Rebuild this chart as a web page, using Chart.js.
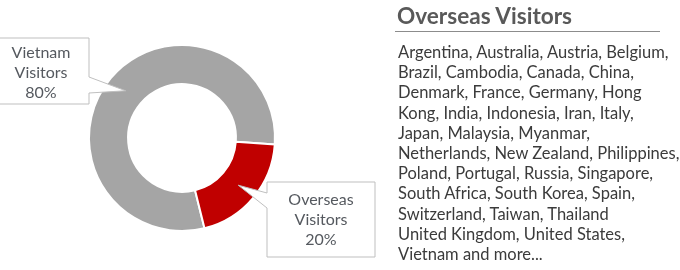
<!DOCTYPE html>
<html>
<head>
<meta charset="utf-8">
<script src="https://cdn.jsdelivr.net/npm/chart.js@4"></script>
<style>
  html, body { margin: 0; padding: 0; background: #fff; }
  #wrap { position: relative; width: 680px; height: 270px; overflow: hidden; }
  #donut { position: absolute; left: 0; top: 0; }
  #panel { position: absolute; left: 397px; top: 0; width: 283px; font-family: Lato, sans-serif; }
  #panel h2 { margin: 0; position: absolute; left: 0; top: 2px; font-size: 22.6px; font-weight: bold; color: #595959; white-space: nowrap; }
  #rule { position: absolute; left: -2px; top: 31px; width: 265px; height: 1px; background: #8c8c8c; }
  #list { position: absolute; left: 1px; top: 42px; font-size: 16.5px; line-height: 20.2px; color: #3b3b3b; white-space: nowrap; }
</style>
</head>
<body>
<div id="wrap">
  <canvas id="donut" width="680" height="270"></canvas>
  <div id="panel">
    <h2 id="title"></h2>
    <div id="rule"></div>
    <div id="list"></div>
  </div>
</div>
<script>
// chart data
const labels = ['Vietnam Visitors', 'Overseas Visitors'];
const shares = [80, 20];
const colors = ['#a5a5a5', '#c00000'];

// side panel text
const panelTitle = 'Overseas Visitors';
const countryLines = [
    'Argentina, Australia, Austria, Belgium,',
    'Brazil, Cambodia, Canada, China,',
    'Denmark, France, Germany, Hong',
    'Kong, India, Indonesia, Iran, Italy,',
    'Japan, Malaysia, Myanmar,',
    'Netherlands, New Zealand, Philippines,',
    'Poland, Portugal, Russia, Singapore,',
    'South Africa, South Korea, Spain,',
    'Switzerland, Taiwan, Thailand',
    'United Kingdom, United States,',
    'Vietnam and more...'
];

document.getElementById('title').textContent = panelTitle;
const list = document.getElementById('list');
countryLines.forEach(line => {
    const div = document.createElement('div');
    div.textContent = line;
    list.appendChild(div);
});

// callout boxes: x, y, w, h, which side the pointer leaves from, pointer base y range
const callouts = [
    { box: [-2, 38, 91, 66], side: 'right', base: [77, 93], text: [41, 58] },
    { box: [267, 182, 108, 75], side: 'left', base: [193, 208], text: [321, 205] }
];

const calloutPlugin = {
    id: 'callouts',
    afterDatasetsDraw(chart) {
        const ctx = chart.ctx;
        const meta = chart.getDatasetMeta(0);
        callouts.forEach((c, i) => {
            const tip = meta.data[i].getCenterPoint();
            const [x, y, w, h] = c.box;
            ctx.save();
            ctx.beginPath();
            if (c.side === 'right') {
                ctx.moveTo(x, y);
                ctx.lineTo(x + w, y);
                ctx.lineTo(x + w, c.base[0]);
                ctx.lineTo(tip.x, tip.y);
                ctx.lineTo(x + w, c.base[1]);
                ctx.lineTo(x + w, y + h);
                ctx.lineTo(x, y + h);
            } else {
                ctx.moveTo(x, y);
                ctx.lineTo(x + w, y);
                ctx.lineTo(x + w, y + h);
                ctx.lineTo(x, y + h);
                ctx.lineTo(x, c.base[1]);
                ctx.lineTo(tip.x, tip.y);
                ctx.lineTo(x, c.base[0]);
            }
            ctx.closePath();
            ctx.fillStyle = '#ffffff';
            ctx.fill();
            ctx.strokeStyle = '#bfbfbf';
            ctx.lineWidth = 1;
            ctx.translate(0.5, 0.5);
            ctx.stroke();
            ctx.restore();

            // label text: name split into two lines, then percent
            const words = labels[i].split(' ');
            const lines = [words[0], words[1], shares[i] + '%'];
            ctx.save();
            ctx.font = '16px Lato, sans-serif';
            ctx.fillStyle = '#55595f';
            ctx.textAlign = 'center';
            ctx.textBaseline = 'alphabetic';
            lines.forEach((t, k) => ctx.fillText(t, c.text[0], c.text[1] + k * 20));
            ctx.restore();
        });
    }
};

new Chart(document.getElementById('donut'), {
    type: 'doughnut',
    data: {
        labels: labels,
        datasets: [{
            data: shares,
            backgroundColor: colors,
            borderColor: '#ffffff',
            borderWidth: 2
        }]
    },
    options: {
        responsive: false,
        animation: false,
        rotation: 166,
        cutout: '58%',
        layout: { padding: { left: 88, top: 44, right: 404, bottom: 38 } },
        plugins: {
            legend: { display: false },
            tooltip: { enabled: false }
        }
    },
    plugins: [calloutPlugin]
});
</script>
</body>
</html>
